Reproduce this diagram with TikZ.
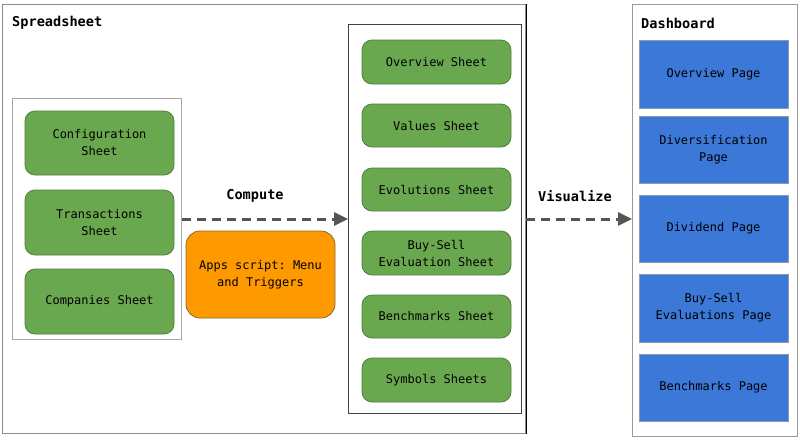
\documentclass[tikz,border=0pt]{standalone}
\usepackage{fontspec}
\setmonofont{DejaVu Sans Mono}
\usetikzlibrary{arrows.meta}
\definecolor{sheetgreen}{HTML}{6AA84F}
\definecolor{greenline}{HTML}{4F7F3A}
\definecolor{apporange}{HTML}{FF9900}
\definecolor{orangeline}{HTML}{8A6A30}
\definecolor{pageblue}{HTML}{3C78D8}
\definecolor{blueline}{HTML}{8A9AB0}
\definecolor{arrowgray}{HTML}{555555}
\tikzset{
  boxtext/.style={font=\ttfamily\fontsize{12}{17}\selectfont, align=center, text=black},
  sheetbox/.style={boxtext, draw=greenline, fill=sheetgreen, rounded corners=10pt, minimum width=149pt, inner sep=0pt, line width=0.8pt},
  appbox/.style={boxtext, draw=orangeline, fill=apporange, rounded corners=14pt, minimum width=149pt, inner sep=0pt, line width=0.8pt},
  pagebox/.style={boxtext, draw=blueline, fill=pageblue, minimum width=149pt, inner sep=0pt, line width=1pt},
  container/.style={draw=#1, fill=white, inner sep=0pt, line width=1pt},
  title/.style={font=\ttfamily\bfseries\fontsize{13.6}{16}\selectfont, inner sep=0pt, text=black},
  flow/.style={draw=arrowgray, line width=3pt, dash pattern=on 9pt off 6pt, -{Triangle[length=14pt,width=13pt]}},
}
\begin{document}
\begin{tikzpicture}[x=1pt,y=-1pt]
\useasboundingbox (0,0) rectangle (800,440);
% outer spreadsheet
\node[container=black!45, minimum width=523pt, minimum height=429pt, anchor=north west] (outer) at (2,4) {};
\draw[black, line width=1pt] (outer.north east) -- (outer.south east);
\node[title, anchor=west] (sstitle) at (12,23) {Spreadsheet};
% left container
\node[container=black!35, minimum width=169pt, minimum height=241pt, anchor=north west] (leftc) at (12,98) {};
\node[sheetbox, minimum height=64pt] (config) at (99.5,143) {Configuration\\Sheet};
\node[sheetbox, minimum height=65pt] (trans) at (99.5,222.5) {Transactions\\Sheet};
\node[sheetbox, minimum height=65pt] (comp) at (99.5,301.5) {Companies Sheet};
% apps script
\node[appbox, minimum height=87pt] (apps) at (260.5,274.5) {Apps script: Menu\\and Triggers};
% middle container
\node[container=black!75, minimum width=173pt, minimum height=389pt, anchor=north west] (midc) at (348,24) {};
\node[sheetbox, minimum height=44pt] (ovs) at (436.5,62) {Overview Sheet};
\node[sheetbox, minimum height=43pt] (vals) at (436.5,125.5) {Values Sheet};
\node[sheetbox, minimum height=43pt] (evos) at (436.5,189.5) {Evolutions Sheet};
\node[sheetbox, minimum height=44pt] (bses) at (436.5,253) {Buy-Sell\\Evaluation Sheet};
\node[sheetbox, minimum height=43pt] (bens) at (436.5,316.5) {Benchmarks Sheet};
\node[sheetbox, minimum height=44pt] (syms) at (436.5,380) {Symbols Sheets};
% dashboard
\node[container=black!40, minimum width=165pt, minimum height=432pt, anchor=north west] (dash) at (632,4) {};
\node[title, anchor=west] (dtitle) at (641,23) {Dashboard};
\node[pagebox, minimum height=68pt] (ovp) at (713.5,74) {Overview Page};
\node[pagebox, minimum height=67pt] (divp) at (713.5,149.5) {Diversification\\Page};
\node[pagebox, minimum height=67pt] (dvdp) at (713.5,228.5) {Dividend Page};
\node[pagebox, minimum height=68pt] (bsep) at (713.5,308) {Buy-Sell\\Evaluations Page};
\node[pagebox, minimum height=67pt] (benp) at (713.5,387.5) {Benchmarks Page};
% arrows
\draw[flow] (leftc.east) -- (midc.west);
\node[title] (computelbl) at (255,196) {Compute};
\draw[flow] (outer.east) -- (dash.west |- outer.east);
\node[title] (vislbl) at (575,196) {Visualize};
\end{tikzpicture}
\end{document}
